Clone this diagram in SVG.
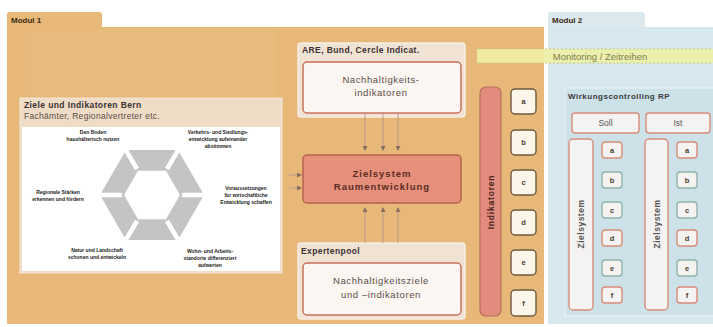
<svg xmlns="http://www.w3.org/2000/svg" width="713" height="327" viewBox="0 0 713 327">
<defs>
<style>
.t{font-family:"Liberation Sans",Arial,sans-serif}
.b{font-weight:bold}
.mod{font-size:8px;font-weight:bold;fill:#3a2a12}
.hex{font-size:5px;font-weight:bold;fill:#222;text-anchor:middle}
.box{fill:#fbf6f1;stroke:#c9705e;stroke-width:1.5}
.outer{fill:#f1e3d3;stroke:#f6ede3;stroke-width:1.5}
.ttl{font-size:8.5px;font-weight:bold;fill:#3b3030;letter-spacing:0.4px}
.mid{font-size:9.5px;fill:#5a4d48;text-anchor:middle;letter-spacing:0.6px}
.ind{fill:#fbf5ea;stroke:#6e5a3e;stroke-width:1.4}
.lt{font-size:7.5px;font-weight:bold;fill:#4a4030;text-anchor:middle}
.sb{fill:#f5f3f1;stroke:#d98c7a;stroke-width:1.4}
.sg{fill:#f5f3f1;stroke:#8fb2ab;stroke-width:1.4}
.conn{stroke:#b99a88;stroke-width:1;fill:none}
</style>
<marker id="ah" markerWidth="5" markerHeight="5" refX="4" refY="2.5" orient="auto" markerUnits="userSpaceOnUse">
<path d="M0,0 L5,2.5 L0,5 z" fill="#8a6f60"/>
</marker>
</defs>
<rect width="713" height="327" fill="#ffffff"/>

<g id="modul1">
<path d="M7,27 V15 Q7,12 10,12 H99 Q102,12 102,15 V27 Z" fill="#e7b878"/>
<rect x="7" y="27" width="537" height="297" fill="#e7b878"/>
<rect x="25" y="30" width="250" height="66" fill="#e8ba7c"/>
<text class="t mod" x="11" y="23">Modul 1</text>
</g>

<g id="modul2">
<path d="M548,27 V15 Q548,12 551,12 H642 Q645,12 645,15 V27 Z" fill="#dbe9ee"/>
<rect x="548" y="27" width="165" height="297" fill="#d6e7ee"/>
<text class="t mod" x="552" y="23">Modul 2</text>
</g>

<g id="monitoring">
<rect x="477" y="49" width="236" height="14" fill="#eef0a6" opacity="0.9"/>
<line x1="477" y1="49" x2="713" y2="49" stroke="#c9c978" stroke-width="1" stroke-dasharray="2,2"/>
<line x1="477" y1="63" x2="713" y2="63" stroke="#c9c978" stroke-width="1" stroke-dasharray="2,2"/>
<text class="t" x="600" y="59.5" font-size="9.5" fill="#7e7e4a" text-anchor="middle">Monitoring / Zeitreihen</text>
</g>

<g id="ziele-bern">
<rect x="20" y="98" width="262" height="175" fill="#efdcc6" stroke="#f4e8da" stroke-width="1"/>
<rect x="22" y="127" width="258" height="144" fill="#ffffff"/>
<text class="t b" x="24" y="108" font-size="8.5" fill="#3a3030" letter-spacing="0.4">Ziele und Indikatoren Bern</text>
<text class="t" x="24" y="119" font-size="8.5" fill="#5a4d48" letter-spacing="0.3">Fachämter, Regionalvertreter etc.</text>
<g fill="#c4c4c4">
<polygon points="126,150 178,150 166,170.8 138,170.8"/>
<polygon points="178,150 204,195 180,195 166,170.8"/>
<polygon points="204,195 178,240 166,219.2 180,195"/>
<polygon points="178,240 126,240 138,219.2 166,219.2"/>
<polygon points="126,240 100,195 124,195 138,219.2"/>
<polygon points="100,195 126,150 138,170.8 124,195"/>
</g>
<g stroke="#ffffff" stroke-width="4.5">
<line x1="122" y1="195" x2="97" y2="195"/>
<line x1="182" y1="195" x2="207" y2="195"/>
<line x1="137" y1="169" x2="124" y2="147"/>
<line x1="167" y1="169" x2="180" y2="147"/>
<line x1="137" y1="221" x2="124" y2="243"/>
<line x1="167" y1="221" x2="180" y2="243"/>
</g>
<text class="t hex"><tspan x="93" y="134">Den Boden</tspan><tspan x="93" y="141">haushälterisch nutzen</tspan></text>
<text class="t hex"><tspan x="218" y="134">Verkehrs- und Siedlungs-</tspan><tspan x="218" y="141">entwicklung aufeinander</tspan><tspan x="218" y="148">abstimmen</tspan></text>
<text class="t hex"><tspan x="58" y="194">Regionale Stärken</tspan><tspan x="58" y="201">erkennen und fördern</tspan></text>
<text class="t hex"><tspan x="246" y="190">Voraussetzungen</tspan><tspan x="246" y="197">für wirtschaftliche</tspan><tspan x="246" y="204">Entwicklung schaffen</tspan></text>
<text class="t hex"><tspan x="97" y="252">Natur und Landschaft</tspan><tspan x="97" y="259">schonen und entwickeln</tspan></text>
<text class="t hex"><tspan x="210" y="253">Wohn- und Arbeits-</tspan><tspan x="210" y="260">standorte differenziert</tspan><tspan x="210" y="267">aufwerten</tspan></text>
</g>

<g id="are">
<rect class="outer" x="298" y="43" width="167" height="74" rx="3"/>
<text class="t ttl" x="302" y="53">ARE, Bund, Cercle Indicat.</text>
<rect class="box" x="303" y="62" width="158" height="51" rx="4"/>
<text class="t mid"><tspan x="381" y="83">Nachhaltigkeits-</tspan><tspan x="381" y="96">indikatoren</tspan></text>
</g>

<g id="zielsystem">
<rect x="303" y="155" width="158" height="48" rx="4" fill="#e68f7b" stroke="#b8624f" stroke-width="1.5"/>
<text class="t" font-size="9.5" font-weight="bold" fill="#5a2d22" text-anchor="middle" letter-spacing="1"><tspan x="382" y="177">Zielsystem</tspan><tspan x="382" y="190">Raumentwicklung</tspan></text>
</g>

<g id="expertenpool">
<rect class="outer" x="298" y="243" width="167" height="76" rx="3"/>
<text class="t ttl" x="301" y="254">Expertenpool</text>
<rect class="box" x="303" y="263" width="158" height="52" rx="4"/>
<text class="t mid" font-size="9"><tspan x="381" y="284">Nachhaltigkeitsziele</tspan><tspan x="381" y="298">und –indikatoren</tspan></text>
</g>

<g id="indikatoren">
<rect x="480" y="87" width="21" height="229" rx="6" fill="#e28c7d" stroke="#b96e5e" stroke-width="1.2"/>
<text class="t" transform="translate(494,202) rotate(-90)" font-size="8.5" font-weight="bold" fill="#4a2520" text-anchor="middle" letter-spacing="0.8">Indikatoren</text>
</g>

<g id="ind-m1">
<rect class="ind" x="511" y="89" width="25" height="25" rx="4"/><text class="t lt" x="523.5" y="104">a</text>
<rect class="ind" x="511" y="130" width="25" height="25" rx="4"/><text class="t lt" x="523.5" y="145">b</text>
<rect class="ind" x="511" y="170" width="25" height="25" rx="4"/><text class="t lt" x="523.5" y="185">c</text>
<rect class="ind" x="511" y="210" width="25" height="25" rx="4"/><text class="t lt" x="523.5" y="225">d</text>
<rect class="ind" x="511" y="250" width="25" height="25" rx="4"/><text class="t lt" x="523.5" y="265">e</text>
<rect class="ind" x="511" y="290" width="25" height="26" rx="4"/><text class="t lt" x="523.5" y="306">f</text>
</g>

<g id="wirkungscontrolling">
<rect x="565" y="88" width="150" height="228" fill="#cde1e9" stroke="#e3eef2" stroke-width="1.5"/>
<text class="t b" x="568" y="99" font-size="8" fill="#3a3a3a" letter-spacing="0.5">Wirkungscontrolling RP</text>
<rect class="sb" x="572" y="113" width="67" height="20" rx="3"/>
<text class="t" x="605.5" y="126" font-size="8.5" fill="#555" text-anchor="middle">Soll</text>
<rect class="sb" x="646" y="113" width="64" height="20" rx="3"/>
<text class="t" x="678" y="126" font-size="8.5" fill="#555" text-anchor="middle">Ist</text>
<rect class="sb" x="569" y="139" width="24" height="171" rx="4"/>
<text class="t" transform="translate(584,224) rotate(-90)" font-size="8.5" font-weight="bold" fill="#555" text-anchor="middle" letter-spacing="0.5">Zielsystem</text>
<rect class="sb" x="645" y="139" width="23" height="171" rx="4"/>
<text class="t" transform="translate(659.5,224) rotate(-90)" font-size="8.5" font-weight="bold" fill="#555" text-anchor="middle" letter-spacing="0.5">Zielsystem</text>
<rect class="sb" x="602" y="142" width="20" height="16" rx="3"/><text class="t lt" x="612" y="153">a</text>
<rect class="sg" x="602" y="172" width="20" height="16" rx="3"/><text class="t lt" x="612" y="183">b</text>
<rect class="sg" x="602" y="202" width="20" height="16" rx="3"/><text class="t lt" x="612" y="213">c</text>
<rect class="sb" x="602" y="230" width="20" height="16" rx="3"/><text class="t lt" x="612" y="241">d</text>
<rect class="sg" x="602" y="260" width="20" height="16" rx="3"/><text class="t lt" x="612" y="271">e</text>
<rect class="sb" x="602" y="287" width="20" height="16" rx="3"/><text class="t lt" x="612" y="298">f</text>
<rect class="sb" x="677" y="142" width="20" height="16" rx="3"/><text class="t lt" x="687" y="153">a</text>
<rect class="sg" x="677" y="172" width="20" height="16" rx="3"/><text class="t lt" x="687" y="183">b</text>
<rect class="sg" x="677" y="202" width="20" height="16" rx="3"/><text class="t lt" x="687" y="213">c</text>
<rect class="sb" x="677" y="230" width="20" height="16" rx="3"/><text class="t lt" x="687" y="241">d</text>
<rect class="sg" x="677" y="260" width="20" height="16" rx="3"/><text class="t lt" x="687" y="271">e</text>
<rect class="sb" x="677" y="287" width="20" height="16" rx="3"/><text class="t lt" x="687" y="298">f</text>
</g>

<g id="connectors">
<line class="conn" x1="365" y1="113" x2="365" y2="150" marker-end="url(#ah)"/>
<line class="conn" x1="383" y1="113" x2="383" y2="150" marker-end="url(#ah)"/>
<line class="conn" x1="398" y1="113" x2="398" y2="150" marker-end="url(#ah)"/>
<line class="conn" x1="365" y1="243" x2="365" y2="208" marker-end="url(#ah)"/>
<line class="conn" x1="383" y1="243" x2="383" y2="208" marker-end="url(#ah)"/>
<line class="conn" x1="398" y1="243" x2="398" y2="208" marker-end="url(#ah)"/>
<line class="conn" x1="289" y1="175" x2="301" y2="175" marker-end="url(#ah)"/>
<line class="conn" x1="289" y1="188" x2="301" y2="188" marker-end="url(#ah)"/>
</g>
</svg>
